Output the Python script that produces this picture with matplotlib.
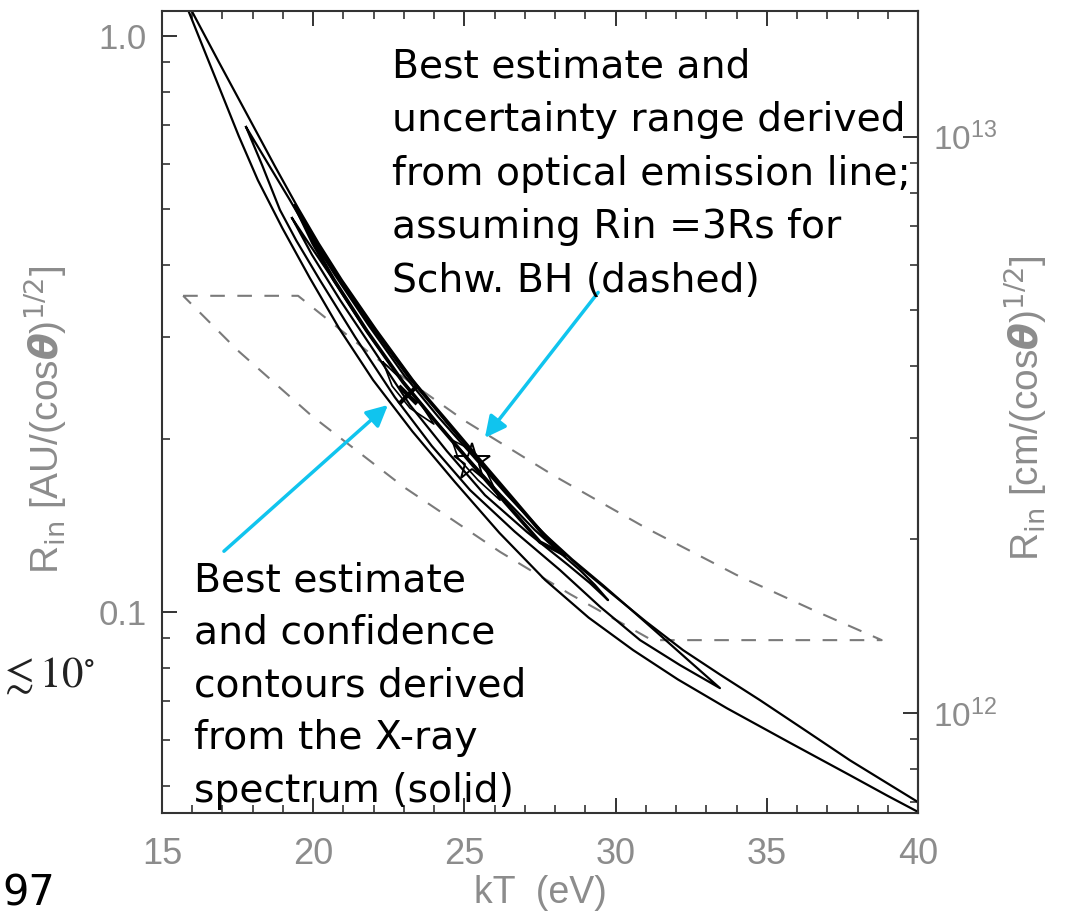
import matplotlib
matplotlib.use('Agg')
import matplotlib.pyplot as plt
from matplotlib.ticker import MultipleLocator, FixedLocator, FixedFormatter, NullFormatter

W, H = 1068, 919
AU_CM = 1.496e13

# ---- X-ray confidence contours (solid) ----
# outer contour, open at the top
A_low_kT = [15.73, 16.42, 16.98, 17.54, 18.17, 18.98, 19.89, 20.87, 21.98, 23.28, 24.69,
            26.16, 27.67, 29.11, 30.58, 32.06, 33.68, 35.77, 37.75, 38.99, 40.0]
A_low_R = [1.155, 0.938, 0.793, 0.670, 0.562, 0.464, 0.380, 0.310, 0.2528, 0.2059, 0.1681,
           0.1372, 0.1137, 0.0978, 0.0859, 0.0764, 0.0681, 0.0593, 0.0521, 0.0480, 0.0450]
A_up_kT = [15.79, 16.88, 17.91, 18.75, 19.50, 20.18, 20.95, 22.08, 23.30, 24.41, 25.52, 26.69,
           27.83, 28.82, 29.81, 30.99, 32.23, 33.47, 34.78, 36.28, 37.75, 38.92, 40.0]
A_up_R = [1.155, 0.901, 0.715, 0.592, 0.5027, 0.4367, 0.377, 0.3094, 0.2528, 0.2134, 0.1822,
          0.1546, 0.1334, 0.1196, 0.1083, 0.0964, 0.0859, 0.0778, 0.0703, 0.0623, 0.0553,
          0.0507, 0.0468]

# second contour (closed)
B_up_kT = [17.78, 18.50, 19.23, 19.92, 20.72, 21.82, 23.00, 24.13, 25.25, 26.39, 27.50,
           28.56, 29.58, 30.53, 31.47, 32.45, 33.45]
B_up_R = [0.695, 0.601, 0.519, 0.4498, 0.3847, 0.3153, 0.2579, 0.2184, 0.1874, 0.1602, 0.1388,
          0.1235, 0.1114, 0.1008, 0.0912, 0.0821, 0.0738]
B_low_kT = [17.78, 18.31, 18.90, 19.44, 20.22, 21.39, 22.70, 23.92, 25.19, 26.66, 28.16,
            29.50, 30.81, 32.13, 33.45]
B_low_R = [0.695, 0.597, 0.499, 0.4416, 0.377, 0.3001, 0.236, 0.1943, 0.1628, 0.1380, 0.1183,
           0.1020, 0.0894, 0.0809, 0.0738]

# third contour (closed)
C_up_kT = [19.30, 19.89, 20.56, 21.65, 22.80, 23.90, 25.02, 26.18, 27.33, 28.10, 28.82,
           29.32, 29.75]
C_up_R = [0.483, 0.4337, 0.3847, 0.3136, 0.2579, 0.2189, 0.1874, 0.1603, 0.1388, 0.1276, 0.1183,
          0.1114, 0.1049]
C_low_kT = [19.30, 19.96, 20.89, 22.04, 23.20, 24.42, 25.68, 27.07, 28.43, 29.15, 29.75]
C_low_R = [0.483, 0.417, 0.348, 0.2827, 0.2288, 0.1903, 0.1596, 0.1377, 0.1207, 0.1123, 0.1049]

# innermost narrow contour (the thick black band)
D_up_kT = [19.40, 20.09, 20.89, 22.01, 23.20, 24.33, 25.45, 26.61, 27.76, 28.33]
D_up_R = [0.507, 0.4371, 0.377, 0.3099, 0.2547, 0.2172, 0.1851, 0.1571, 0.1334, 0.1255]
D_low_kT = [19.40, 19.99, 20.69, 21.78, 22.97, 24.06, 25.19, 26.34, 27.50, 28.33]
D_low_R = [0.507, 0.4371, 0.377, 0.3074, 0.2507, 0.2138, 0.1822, 0.1552, 0.1323, 0.1255]

# small contours round the two best estimates
E_kT = [22.31, 22.87, 23.47, 23.99, 23.20, 22.61, 22.31]
E_R = [0.2716, 0.2547, 0.2333, 0.2120, 0.2260, 0.2468, 0.2716]
F_kT = [24.59, 25.12, 25.68, 26.18, 25.45, 24.79, 24.59]
F_R = [0.1989, 0.1926, 0.1778, 0.1564, 0.1695, 0.1851, 0.1989]

# best estimates
xray_best = (23.13, 0.238)
opt_best = (25.25, 0.182)

# ---- optical emission line range (dashed) ----
opt_top_kT = [15.7, 19.5]
opt_top_R = [0.354, 0.354]
opt_right_kT = [19.5, 22.0, 25.0, 28.0, 31.0, 34.0, 36.5, 38.8]
opt_right_R = [0.354, 0.278, 0.215, 0.172, 0.140, 0.116, 0.101, 0.0894]
opt_bot_kT = [38.8, 31.2]
opt_bot_R = [0.0894, 0.0894]
opt_left_kT = [31.2, 28.5, 26.18, 23.0, 19.96, 17.5, 15.7]
opt_left_R = [0.0894, 0.1074, 0.1272, 0.1648, 0.2189, 0.2847, 0.354]

x_ticks = [15, 20, 25, 30, 35, 40]
y_ticks = [0.1, 1.0]
y_ticklabels = ['0.1', '1.0']
cm_ticks = [1e12, 1e13]

plt.rcParams['font.family'] = ['Liberation Sans', 'DejaVu Sans']
GREY = '#8c8c8c'
CYAN = '#10c4ee'

fig = plt.figure(figsize=(W / 100, H / 100), dpi=100)
ax = fig.add_axes([162 / W, 1 - 813 / H, 756 / W, 802 / H])
ax.set_yscale('log')
ax.set_xlim(15, 40)
ax.set_ylim(0.0448, 1.105)

# dashed optical region
opt_kT = opt_top_kT + opt_right_kT[1:] + opt_bot_kT[1:] + opt_left_kT[1:]
opt_R = opt_top_R + opt_right_R[1:] + opt_bot_R[1:] + opt_left_R[1:]
ax.plot(opt_kT, opt_R, color='#7a7a7a', lw=1.5, ls=(0, (7, 6)))

# solid contours
ax.plot(A_low_kT, A_low_R, color='k', lw=1.6)
ax.plot(A_up_kT, A_up_R, color='k', lw=1.6)
for up_kT, up_R, low_kT, low_R, lw in [
        (B_up_kT, B_up_R, B_low_kT, B_low_R, 1.6),
        (C_up_kT, C_up_R, C_low_kT, C_low_R, 1.6),
        (D_up_kT, D_up_R, D_low_kT, D_low_R, 2.6)]:
    ax.plot(up_kT + low_kT[::-1], up_R + low_R[::-1], color='k', lw=lw)
ax.plot(E_kT, E_R, color='k', lw=1.2)
ax.plot(F_kT, F_R, color='k', lw=1.2)

ax.plot(*xray_best, marker='x', ms=13, mew=3, color='k')
ax.plot(*opt_best, marker='*', ms=28, mfc='none', mec='k', mew=1.4)

# axes cosmetics
for s in ax.spines.values():
    s.set_linewidth(1.5)
    s.set_color('#333333')
ax.xaxis.set_major_locator(FixedLocator(x_ticks))
ax.xaxis.set_minor_locator(MultipleLocator(1))
ax.yaxis.set_major_locator(FixedLocator(y_ticks))
ax.yaxis.set_major_formatter(FixedFormatter(y_ticklabels))
ax.yaxis.set_minor_formatter(NullFormatter())
ax.tick_params(which='both', direction='in', top=True, right=False, color='#333333')
ax.tick_params(which='major', length=11, width=1.4)
ax.tick_params(which='minor', length=6, width=1.2)
ax.tick_params(axis='x', labelsize=26, labelcolor=GREY, pad=17)
ax.tick_params(axis='y', labelsize=25, labelcolor=GREY, pad=11)

sec = ax.secondary_yaxis('right', functions=(lambda r: r * AU_CM, lambda c: c / AU_CM))
sec.yaxis.set_major_locator(FixedLocator(cm_ticks))
sec.yaxis.set_minor_formatter(NullFormatter())
sec.tick_params(which='both', direction='in', color='#333333')
sec.tick_params(which='major', length=11, width=1.4, labelsize=24, labelcolor=GREY, pad=11)
sec.tick_params(which='minor', length=6, width=1.2)
sec.spines['right'].set_linewidth(1.5)
sec.spines['right'].set_color('#333333')

fig.text(540 / W, 1 - 893 / H, 'kT  (eV)', ha='center', va='center', fontsize=27, color=GREY)
fig.text(45 / W, 1 - 420 / H, r'R$_{\rm in}$ [AU/(cos$\boldsymbol{\theta}$)$^{1/2}$]',
         rotation=90, ha='center', va='center', fontsize=28, color=GREY)
fig.text(1025 / W, 1 - 408 / H, r'R$_{\rm in}$ [cm/(cos$\boldsymbol{\theta}$)$^{1/2}$]',
         rotation=90, ha='center', va='center', fontsize=28, color=GREY)

# annotations
ax.annotate('', xy=(22.54, 0.2305), xytext=(16.98, 0.1266),
            arrowprops=dict(arrowstyle='-|>', color=CYAN, lw=2.5, mutation_scale=32))
ax.annotate('', xy=(25.62, 0.1989), xytext=(29.48, 0.362),
            arrowprops=dict(arrowstyle='-|>', color=CYAN, lw=2.5, mutation_scale=32))

top_lines = ['Best estimate and', 'uncertainty range derived',
             'from optical emission line;', 'assuming Rin =3Rs for',
             'Schw. BH (dashed)']
for i, line in enumerate(top_lines):
    fig.text(392 / W, 1 - (77 + 53.8 * i) / H, line, ha='left', va='baseline',
             fontsize=28.3, family='DejaVu Sans', color='k')
bot_lines = ['Best estimate', 'and confidence', 'contours derived',
             'from the X-ray', 'spectrum (solid)']
for i, line in enumerate(bot_lines):
    fig.text(194 / W, 1 - (591 + 52.8 * i) / H, line, ha='left', va='baseline',
             fontsize=28.3, family='DejaVu Sans', color='k')

fig.text(95 / W, 1 - 687 / H, r'$\lesssim 10^{\circ}$', ha='right', va='baseline',
         fontsize=31, color='#222222', math_fontfamily='stix')
fig.text(2 / W, 1 - 905 / H, '97', ha='left', va='baseline', fontsize=30,
         family='DejaVu Sans', color='k')

fig.savefig('out.png', dpi=100)
